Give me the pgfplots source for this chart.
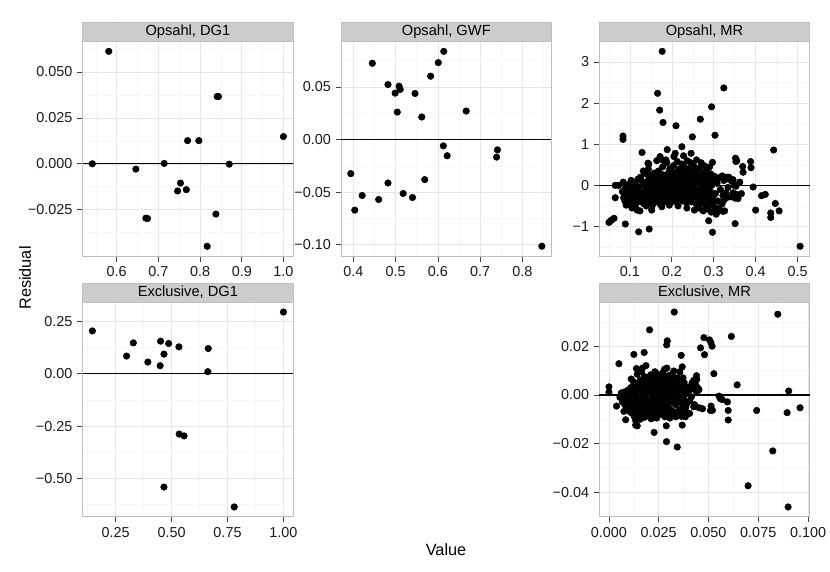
\documentclass[border=0pt]{standalone}
\usepackage{pgfplots}
\pgfplotsset{compat=1.18}
\usepackage{fontspec}
\setmainfont{Liberation Sans}

\pgfplotsset{
  facet/.style={
    scale only axis, width=157.65pt, height=160.8pt,
    axis line style={gray!50, line width=0.5pt},
    tick align=outside, tick pos=left,
    major tick length=4.25pt, minor tick length=0pt,
    tick style={black!75, line width=0.5pt},
    grid=both,
    major grid style={color=black!10, line width=0.4pt},
    minor grid style={color=black!3, line width=0.4pt},
    ticklabel style={font=\fontsize{10.8}{12}\selectfont, text=black!90},
    clip=false,
  },
  dots/.style={only marks, mark=*, mark size=2.45pt, black},
  zero/.style={black, line width=1pt, mark=none},
}
\newcommand{\strip}[1]{%
  \draw[gray!50, fill=black!20, line width=0.5pt] (rel axis cs:0,1) rectangle ([yshift=14.55pt]rel axis cs:1,1);
  \node[font=\fontsize{11}{13}\selectfont] at ([yshift=7.3pt]rel axis cs:0.5,1) {#1};}

\begin{document}
\begin{tikzpicture}[x=0.75pt, y=0.75pt]
\path[use as bounding box] (0,0) rectangle (830,571);

% Opsahl, DG1
\begin{axis}[facet, at={(62.1pt,236.25pt)}, anchor=south west,
  xmin=0.5187, xmax=1.0229, ymin=-0.0502, ymax=0.0665,
  xtick={0.6,0.7,0.8,0.9,1.0}, xticklabels={0.6,0.7,0.8,0.9,1.0},
  minor xtick={0.55,0.65,0.75,0.85,0.95},
  ytick={-0.025,0,0.025,0.05}, yticklabels={−0.025,0.000,0.025,0.050},
  minor ytick={-0.0375,-0.0125,0.0125,0.0375,0.0625}]
\addplot[zero] coordinates {(0.5187,0) (1.0229,0)};
\addplot[dots] coordinates {
(0.5416,0.0000) (0.581,0.0612) (0.646,-0.0029) (0.670,-0.0296) (0.674,-0.0298)
(0.714,0.0002) (0.746,-0.0148) (0.753,-0.0105) (0.767,-0.0141) (0.770,0.0126)
(0.797,0.0126) (0.817,-0.0449) (0.838,-0.0274) (0.841,0.0366) (0.844,0.0366)
(0.870,-0.0002) (1.000,0.0148)
};
\strip{Opsahl, DG1}
\end{axis}

% Opsahl, GWF
\begin{axis}[facet, at={(255.9pt,236.25pt)}, anchor=south west,
  xmin=0.3714, xmax=0.8686, ymin=-0.1107, ymax=0.0931,
  xtick={0.4,0.5,0.6,0.7,0.8}, xticklabels={0.4,0.5,0.6,0.7,0.8},
  minor xtick={0.45,0.55,0.65,0.75,0.85},
  ytick={-0.1,-0.05,0,0.05}, yticklabels={−0.10,−0.05,0.00,0.05},
  minor ytick={-0.075,-0.025,0.025,0.075}]
\addplot[zero] coordinates {(0.3714,0) (0.8686,0)};
\addplot[dots] coordinates {
(0.394,-0.0324) (0.4035,-0.0671) (0.421,-0.0532) (0.445,0.0725) (0.460,-0.0570)
(0.482,-0.0413) (0.482,0.0523) (0.499,0.0441) (0.504,0.0261) (0.5083,0.0507)
(0.511,0.0476) (0.518,-0.0513) (0.540,-0.0551) (0.546,0.0438) (0.562,0.0214)
(0.569,-0.0381) (0.583,0.0602) (0.601,0.0731) (0.613,-0.0060) (0.614,0.0838)
(0.622,-0.0154) (0.667,0.0271) (0.739,-0.0167) (0.741,-0.0098) (0.846,-0.1014)
};
\strip{Opsahl, GWF}
\end{axis}

% Opsahl, MR
\begin{axis}[facet, at={(449.55pt,236.25pt)}, anchor=south west,
  xmin=0.0272, xmax=0.5288, ymin=-1.717, ymax=3.497,
  xtick={0.1,0.2,0.3,0.4,0.5}, xticklabels={0.1,0.2,0.3,0.4,0.5},
  minor xtick={0.05,0.15,0.25,0.35,0.45},
  ytick={-1,0,1,2,3}, yticklabels={−1,0,1,2,3},
  minor ytick={-1.5,-0.5,0.5,1.5,2.5}]
\addplot[zero] coordinates {(0.0272,0) (0.5288,0)};
\addplot[dots] coordinates {
(0.177,3.26) (0.166,2.24) (0.171,1.83) (0.179,1.53) (0.210,1.45) (0.268,1.61)
(0.324,2.37) (0.295,1.91) (0.303,1.22) (0.249,1.18) (0.0835,1.20) (0.0835,1.12)
(0.129,0.80) (0.189,0.87) (0.224,0.94) (0.208,0.78) (0.443,0.86) (0.388,0.58)
(0.389,0.43) (0.369,0.46) (0.370,0.32) (0.352,0.66) (0.353,0.58) (0.297,0.56)
(0.394,-0.04) (0.400,-0.60) (0.414,-0.25) (0.423,-0.22) (0.447,-0.44) (0.436,-0.67)
(0.436,-0.78) (0.456,-0.62) (0.506,-1.48) (0.351,-0.93) (0.297,-1.14) (0.288,-0.86)
(0.146,-1.06) (0.121,-1.13) (0.089,-0.94) (0.050,-0.90) (0.054,-0.86) (0.058,-0.83)
(0.062,-0.80) (0.065,0.00) (0.073,0.00) (0.065,-0.30) (0.143,0.54) (0.179,0.61)
(0.320,0.23) (0.328,0.18) (0.336,0.20) (0.346,0.14) (0.353,-0.02) (0.351,-0.31)
(0.357,-0.23) (0.329,-0.18) (0.325,-0.35) (0.318,-0.41) (0.314,-0.59) (0.322,-0.63)
(0.302,-0.62) (0.306,-0.70)
(0.082,-0.15) (0.085,-0.30) (0.088,-0.38) (0.090,-0.05) (0.092,-0.22) (0.095,-0.42)
(0.097,0.02) (0.099,-0.18) (0.100,-0.28) (0.084,0.08) (0.091,-0.48) (0.090,-0.39)
(0.102,-0.10) (0.104,-0.25) (0.106,0.05) (0.108,-0.35) (0.110,-0.45) (0.112,-0.20)
(0.114,0.00) (0.116,-0.30) (0.118,-0.12) (0.120,-0.40) (0.105,-0.55) (0.113,-0.52)
(0.119,0.15) (0.111,-0.08) (0.117,-0.60) (0.103,0.12)
(0.121,-0.05) (0.123,-0.28) (0.125,0.20) (0.126,-0.18) (0.128,-0.38) (0.130,0.08)
(0.131,-0.22) (0.133,-0.45) (0.134,0.00) (0.136,-0.32) (0.137,0.28) (0.138,-0.10)
(0.139,-0.50) (0.124,-0.62) (0.132,0.35) (0.135,-0.15) (0.129,-0.25) (0.127,0.12)
(0.141,-0.20) (0.142,0.10) (0.143,-0.35) (0.144,0.40) (0.145,-0.05) (0.146,-0.28)
(0.147,0.18) (0.148,-0.42) (0.149,-0.12) (0.150,0.25) (0.151,-0.30) (0.152,0.02)
(0.153,-0.22) (0.154,-0.48) (0.155,0.12) (0.156,-0.15) (0.157,-0.36) (0.158,0.30)
(0.159,-0.08) (0.160,-0.26) (0.145,0.52) (0.152,-0.60)
(0.161,0.05) (0.162,-0.32) (0.163,0.22) (0.164,-0.18) (0.165,-0.40) (0.166,0.10)
(0.167,-0.25) (0.168,0.35) (0.169,-0.05) (0.170,-0.30) (0.171,0.15) (0.172,-0.45)
(0.173,-0.12) (0.174,0.28) (0.175,-0.22) (0.176,0.00) (0.177,-0.35) (0.178,0.45)
(0.179,-0.15) (0.180,0.18) (0.164,0.60) (0.172,0.70) (0.176,-0.52)
(0.181,-0.28) (0.182,0.08) (0.183,-0.40) (0.184,0.25) (0.185,-0.10) (0.186,-0.32)
(0.187,0.12) (0.188,0.55) (0.189,-0.20) (0.190,0.02) (0.191,-0.38) (0.192,0.30)
(0.193,-0.15) (0.194,-0.27) (0.195,0.40) (0.196,-0.05) (0.197,-0.42) (0.198,0.18)
(0.199,-0.22) (0.200,0.05) (0.186,0.62) (0.194,-0.48)
(0.201,-0.30) (0.202,0.22) (0.203,-0.12) (0.204,0.48) (0.205,-0.35) (0.206,0.10)
(0.207,-0.20) (0.208,0.32) (0.209,-0.02) (0.210,-0.40) (0.211,0.15) (0.212,-0.25)
(0.213,0.58) (0.214,-0.08) (0.215,0.25) (0.216,-0.32) (0.217,0.00) (0.218,0.40)
(0.219,-0.18) (0.220,0.12) (0.205,0.70) (0.215,-0.50)
(0.221,-0.28) (0.222,0.30) (0.223,-0.10) (0.224,0.52) (0.225,-0.38) (0.226,0.08)
(0.227,-0.22) (0.228,0.20) (0.229,-0.05) (0.230,0.45) (0.231,-0.30) (0.232,0.15)
(0.233,-0.15) (0.234,0.35) (0.235,-0.42) (0.236,0.02) (0.237,0.60) (0.238,-0.25)
(0.239,0.22) (0.240,-0.08) (0.228,0.72) (0.236,-0.55)
(0.241,0.40) (0.242,-0.32) (0.243,0.10) (0.244,-0.18) (0.245,0.55) (0.246,-0.02)
(0.247,-0.40) (0.248,0.28) (0.249,-0.12) (0.250,0.18) (0.251,-0.28) (0.252,0.48)
(0.253,-0.05) (0.254,-0.60) (0.255,0.05) (0.256,0.35) (0.257,-0.22) (0.258,-0.45)
(0.259,0.62) (0.260,0.12) (0.246,0.78)
(0.261,-0.15) (0.262,0.25) (0.263,-0.35) (0.264,0.05) (0.265,-0.55) (0.266,0.42)
(0.267,-0.10) (0.268,0.18) (0.269,-0.28) (0.270,0.55) (0.271,-0.42) (0.272,0.00)
(0.273,0.30) (0.274,-0.20) (0.275,-0.62) (0.276,0.10) (0.277,0.48) (0.278,-0.08)
(0.279,-0.35) (0.280,0.22)
(0.281,-0.50) (0.282,0.35) (0.283,-0.18) (0.284,0.05) (0.285,-0.30) (0.286,0.25)
(0.287,-0.58) (0.288,0.15) (0.289,-0.05) (0.290,0.45) (0.291,-0.40) (0.292,-0.15)
(0.293,0.28) (0.294,-0.65) (0.295,0.00) (0.296,-0.25) (0.297,0.10) (0.298,-0.48)
(0.299,0.18) (0.300,-0.35)
(0.302,0.22) (0.304,-0.20) (0.306,-0.55) (0.308,0.05) (0.310,-0.38) (0.312,0.18)
(0.314,-0.60) (0.316,-0.10) (0.318,0.20) (0.320,-0.45) (0.322,-0.25) (0.324,0.12)
(0.326,-0.62) (0.328,0.15) (0.330,-0.30) (0.332,0.20)
(0.334,-0.05) (0.337,0.15) (0.340,-0.28) (0.343,0.10) (0.346,-0.18) (0.349,0.00)
(0.352,-0.22) (0.355,0.60) (0.358,-0.32) (0.362,0.08) (0.366,-0.20)
};
\strip{Opsahl, MR}
\end{axis}

% Exclusive, DG1
\begin{axis}[facet, at={(62.1pt,40.725pt)}, anchor=south west,
  xmin=0.1033, xmax=1.0427, ymin=-0.6825, ymax=0.3405,
  xtick={0.25,0.5,0.75,1.0}, xticklabels={0.25,0.50,0.75,1.00},
  minor xtick={0.125,0.375,0.625,0.875},
  ytick={-0.5,-0.25,0,0.25}, yticklabels={−0.50,−0.25,0.00,0.25},
  minor ytick={-0.625,-0.375,-0.125,0.125}]
\addplot[zero] coordinates {(0.1033,0) (1.0427,0)};
\addplot[dots] coordinates {
(0.146,0.204) (0.299,0.0839) (0.329,0.147) (0.394,0.0554) (0.449,0.038)
(0.451,0.155) (0.466,0.0934) (0.487,0.144) (0.533,0.128) (0.534,-0.288)
(0.556,-0.297) (0.466,-0.541) (0.664,0.120) (0.662,0.0095) (0.780,-0.636)
(1.000,0.294)
};
\strip{Exclusive, DG1}
\end{axis}

% Exclusive, MR
\begin{axis}[facet, at={(449.55pt,40.725pt)}, anchor=south west,
  xmin=-0.0048, xmax=0.1008, ymin=-0.0500, ymax=0.0380,
  xtick={0,0.025,0.05,0.075,0.1}, xticklabels={0.000,0.025,0.050,0.075,0.100},
  minor xtick={0.0125,0.0375,0.0625,0.0875},
  ytick={-0.04,-0.02,0,0.02}, yticklabels={−0.04,−0.02,0.00,0.02},
  minor ytick={-0.03,-0.01,0.01,0.03}]
\addplot[zero] coordinates {(-0.0048,0) (0.1008,0)};
\addplot[dots] coordinates {
(0.0000,0.0033) (0.0000,0.0011) (0.0050,0.0128) (0.0038,-0.0046) (0.0328,0.0340)
(0.0204,0.0267) (0.0293,0.0222) (0.0290,0.0205) (0.0177,0.0174) (0.0125,0.0166)
(0.0363,0.0162) (0.0477,0.0235) (0.0460,0.0193) (0.0480,0.0165) (0.0505,0.0226)
(0.0512,0.0215) (0.0518,0.0200) (0.0615,0.0240) (0.0527,0.0087) (0.0644,0.0041)
(0.0553,-0.0005) (0.0560,-0.0016) (0.0569,-0.0019) (0.0595,-0.0029) (0.0513,-0.0046)
(0.0520,-0.0063) (0.0510,-0.0064) (0.0599,-0.0064) (0.0599,-0.0103) (0.0742,-0.0064)
(0.0895,-0.0073) (0.0903,0.0016) (0.0960,-0.0053) (0.0848,0.0331) (0.0823,-0.0230)
(0.0699,-0.0373) (0.0900,-0.0460) (0.0343,-0.0214) (0.0289,-0.0192) (0.0227,-0.0154)
(0.0288,-0.0127) (0.0368,-0.0124) (0.0142,-0.0127) (0.0134,-0.0124) (0.0084,-0.0102)
(0.0405,-0.0076) (0.0426,-0.0049) (0.0453,-0.0053) (0.0470,-0.0057) (0.0452,0.0022)
(0.0440,0.0079) (0.0441,0.0063)
(0.0055,-0.0010) (0.0062,0.0008) (0.0068,-0.0030) (0.0072,-0.0015) (0.0078,0.0012)
(0.0082,-0.0042) (0.0088,-0.0005) (0.0092,-0.0060) (0.0096,0.0020) (0.0099,-0.0025)
(0.0075,-0.0068)
(0.0102,-0.0035) (0.0105,0.0005) (0.0108,-0.0055) (0.0110,0.0030) (0.0112,-0.0018)
(0.0115,-0.0075) (0.0118,0.0010) (0.0120,-0.0045) (0.0122,0.0055) (0.0125,-0.0028)
(0.0127,-0.0088) (0.0130,0.0002) (0.0132,-0.0062) (0.0135,0.0040) (0.0137,-0.0012)
(0.0140,-0.0050) (0.0142,0.0085) (0.0145,-0.0095) (0.0147,0.0018) (0.0149,-0.0035)
(0.0112,0.0065) (0.0138,0.0108)
(0.0151,-0.0070) (0.0153,0.0028) (0.0155,-0.0022) (0.0157,0.0060) (0.0159,-0.0048)
(0.0161,-0.0008) (0.0163,0.0095) (0.0165,-0.0082) (0.0167,0.0015) (0.0169,-0.0038)
(0.0171,0.0048) (0.0173,-0.0060) (0.0175,-0.0015) (0.0177,0.0075) (0.0179,-0.0092)
(0.0181,0.0005) (0.0183,-0.0030) (0.0185,0.0038) (0.0187,-0.0052) (0.0189,0.0012)
(0.0191,-0.0072) (0.0193,0.0062) (0.0195,-0.0020) (0.0197,0.0025) (0.0199,-0.0042)
(0.0168,0.0110) (0.0186,0.0120)
(0.0201,0.0008) (0.0203,-0.0058) (0.0205,0.0045) (0.0207,-0.0025) (0.0209,0.0082)
(0.0211,-0.0068) (0.0213,0.0018) (0.0215,-0.0035) (0.0217,0.0058) (0.0219,-0.0010)
(0.0221,-0.0085) (0.0223,0.0030) (0.0225,-0.0045) (0.0227,0.0070) (0.0229,-0.0015)
(0.0231,0.0095) (0.0233,-0.0062) (0.0235,0.0002) (0.0237,-0.0030) (0.0239,0.0040)
(0.0241,-0.0075) (0.0243,0.0065) (0.0245,-0.0020) (0.0247,0.0015) (0.0249,-0.0050)
(0.0212,-0.0098) (0.0238,0.0088)
(0.0251,0.0035) (0.0253,-0.0065) (0.0255,0.0078) (0.0257,-0.0012) (0.0259,0.0022)
(0.0261,-0.0042) (0.0263,0.0058) (0.0265,-0.0080) (0.0267,0.0005) (0.0269,0.0090)
(0.0271,-0.0028) (0.0273,0.0045) (0.0275,-0.0058) (0.0277,0.0012) (0.0279,0.0105)
(0.0281,-0.0090) (0.0283,0.0030) (0.0285,-0.0018) (0.0287,0.0068) (0.0289,-0.0048)
(0.0291,0.0110) (0.0293,0.0000) (0.0295,-0.0070) (0.0297,0.0040) (0.0299,-0.0032)
(0.0302,0.0080) (0.0305,-0.0055) (0.0308,0.0015) (0.0311,-0.0085) (0.0314,0.0062)
(0.0317,-0.0022) (0.0320,0.0035) (0.0323,-0.0068) (0.0326,0.0098) (0.0329,-0.0008)
(0.0332,0.0048) (0.0335,-0.0040) (0.0338,0.0022) (0.0341,-0.0078) (0.0344,0.0070)
(0.0347,-0.0015)
(0.0350,0.0030) (0.0353,-0.0062) (0.0356,0.0095) (0.0359,-0.0030) (0.0362,0.0010)
(0.0365,-0.0088) (0.0368,0.0115) (0.0371,-0.0045) (0.0374,0.0040) (0.0377,-0.0018)
(0.0380,-0.0070) (0.0383,0.0020) (0.0386,-0.0052) (0.0389,0.0005) (0.0392,-0.0035)
(0.0402,0.0018) (0.0406,-0.0025) (0.0410,0.0035) (0.0414,-0.0008) (0.0418,0.0050)
(0.0422,0.0025) (0.0426,0.0060) (0.0430,-0.0040) (0.0435,0.0042) (0.0440,0.0012)
(0.0445,0.0030) (0.0450,0.0020)
(0.0104,-0.0068) (0.0117,-0.0040) (0.0128,0.0020) (0.0134,-0.0105) (0.0144,0.0048)
(0.0150,-0.0058) (0.0156,-0.0100) (0.0162,0.0035) (0.0170,-0.0025) (0.0176,-0.0045)
(0.0182,0.0070) (0.0190,-0.0085) (0.0196,0.0045) (0.0202,-0.0040) (0.0208,-0.0075)
(0.0214,0.0035) (0.0220,0.0050) (0.0226,-0.0060) (0.0232,0.0015) (0.0240,-0.0095)
(0.0246,0.0075) (0.0252,-0.0030) (0.0258,0.0050) (0.0264,-0.0010) (0.0270,-0.0070)
(0.0276,0.0080) (0.0282,-0.0050) (0.0288,0.0010) (0.0294,0.0060) (0.0300,-0.0015)
(0.0306,-0.0095) (0.0312,0.0040) (0.0318,0.0085) (0.0324,-0.0030) (0.0330,0.0010)
(0.0336,-0.0090) (0.0342,0.0045) (0.0348,0.0060) (0.0354,-0.0010) (0.0360,-0.0075)
(0.0366,0.0025) (0.0372,0.0070) (0.0378,0.0050) (0.0384,-0.0090) (0.0390,0.0030)
};
\strip{Exclusive, MR}
\end{axis}

\node[rotate=90, font=\fontsize{12.2}{14}\selectfont] at (25,293) {Residual};
\node[font=\fontsize{12.2}{14}\selectfont] at (446,21) {Value};
\end{tikzpicture}
\end{document}
